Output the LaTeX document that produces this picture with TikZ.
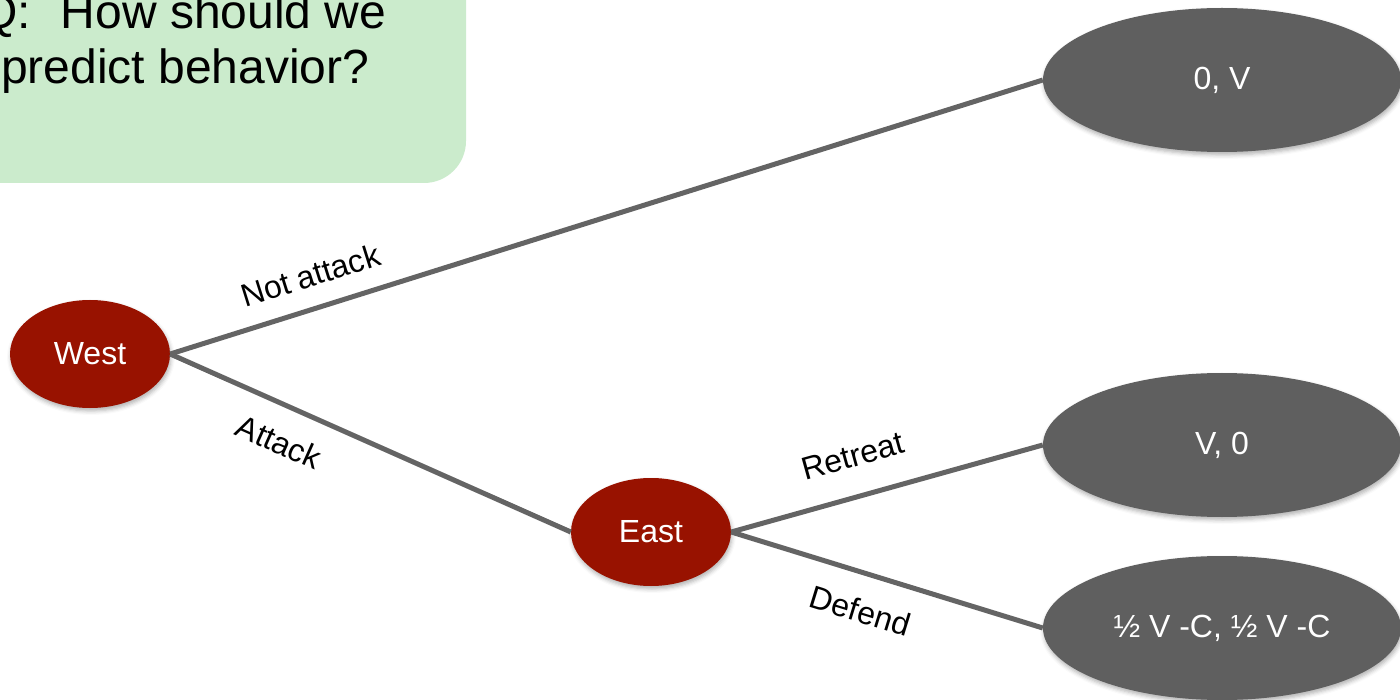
\documentclass[tikz,border=0pt]{standalone}
\usepackage{fontspec}
\setmainfont{Liberation Sans}
\usetikzlibrary{shapes.geometric,shadows.blur}
\definecolor{qgreen}{HTML}{CBEBCC}
\definecolor{mover}{HTML}{981200}
\definecolor{payoff}{HTML}{5F5F5F}
\definecolor{branchgray}{HTML}{646464}
\tikzset{
  soft/.style={blur shadow={shadow xshift=1pt, shadow yshift=-3pt,
      shadow blur radius=4pt, shadow opacity=30}},
  player/.style={ellipse, fill=mover, minimum width=160pt, minimum height=108pt,
      inner sep=0pt, text=white, font=\fontsize{32}{38}\selectfont, soft},
  outcome/.style={ellipse, fill=payoff, minimum width=358pt, minimum height=144pt,
      inner sep=0pt, text=white, font=\fontsize{32}{38}\selectfont, soft},
  branch/.style={draw=branchgray, line width=5pt},
  movelabel/.style={sloped, inner sep=0pt, font=\fontsize{32}{38}\selectfont},
  question/.style={anchor=base west, inner sep=0pt, font=\fontsize{48}{57}\selectfont}
}
\begin{document}
\begin{tikzpicture}[x=1pt,y=-1pt]
  \useasboundingbox (0,0) rectangle (1400,700);
  \clip (0,0) rectangle (1400,700);

  % question box
  \fill[qgreen, rounded corners=42pt] (-80,-80) rectangle (466,183);
  \node[question] (q1) at (-20,29) {Q:\hspace{30pt}How should we};
  \node[question] (q2) at (1,84) {predict behavior?};

  % decision nodes
  \node[player] (west) at (90,354) {West};
  \node[player] (east) at (651,532) {East};

  % terminal payoffs
  \node[outcome] (o1) at (1222,80) {0, V};
  \node[outcome] (o2) at (1222,445) {V, 0};
  \node[outcome] (o3) at (1222,628) {½ V -C, ½ V -C};

  % branches with move labels
  \draw[branch] (west.east) -- node[movelabel, pos=0.172, above=19pt] (l1) {Not attack} (o1.west);
  \draw[branch] (west.east) -- node[movelabel, pos=0.308, below=22pt] (l2) {Attack} (east.west);
  \draw[branch] (east.east) -- node[movelabel, pos=0.425, above=27pt] (l3) {Retreat} (o2.west);
  \draw[branch] (east.east) -- node[movelabel, pos=0.45, below=23pt] (l4) {Defend} (o3.west);
\end{tikzpicture}
\end{document}
